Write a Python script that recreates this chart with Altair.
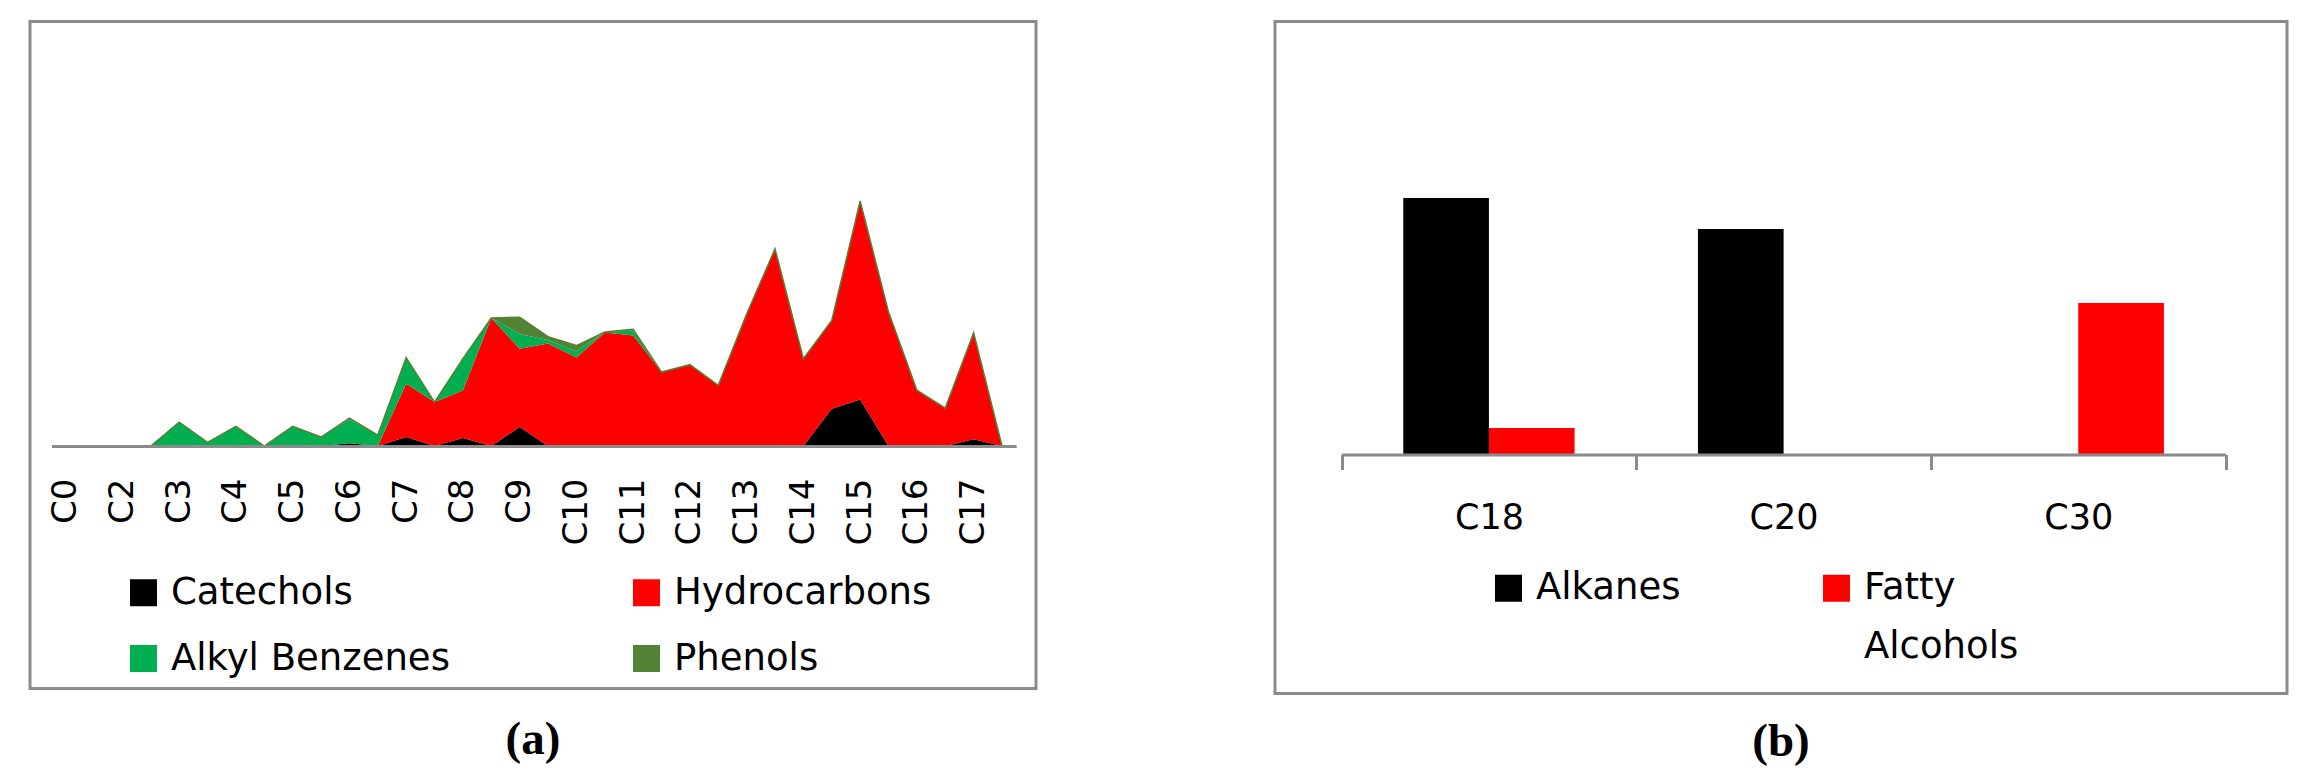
import json
import altair as alt
import pandas as pd

# ---------------- Panel (a): stacked area by carbon number ----------------
# 34 category slots along the axis; every second slot carries a tick label
tick_labels_a = ["C0", "C2", "C3", "C4", "C5", "C6", "C7", "C8", "C9",
                 "C10", "C11", "C12", "C13", "C14", "C15", "C16", "C17"]
n_slots = 34
series_a = ["Catechols", "Hydrocarbons", "Alkyl Benzenes", "Phenols"]
colors_a = ["#000000", "#FF0000", "#00B050", "#548235"]

catechols = [0, 0, 0, 0, 0, 0, 0, 0, 0, 0,
             1.1, 0, 3.6, 0, 3.2, 0, 7.7, 0, 0, 0,
             0, 0, 0, 0, 0, 0, 0, 15.0, 18.8, 0,
             0, 0, 2.7, 0]
hydrocarbons = [0, 0, 0, 0, 0, 0, 0, 0, 0, 0,
                0, 0, 21.5, 17.7, 19.2, 51.6, 31.5, 41.3, 35.7, 45.8,
                44.6, 29.8, 32.8, 24.5, 53.2, 79.5, 35.2, 35.6, 80.0, 54.0,
                22.5, 15.3, 43.0, 0]
alkyl_benzenes = [0, 0, 0, 0, 9.6, 1.5, 7.9, 0, 7.9, 3.6,
                  9.5, 4.4, 10.5, 0, 12.8, 0, 6.0, 1.4, 2.5, 0.2,
                  2.0, 0, 0, 0, 0, 0, 0, 0, 0, 0,
                  0, 0, 0, 0]
phenols = [0, 0, 0, 0, 0, 0, 0, 0, 0, 0,
           0.6, 0, 0, 0, 0, 0, 6.7, 1.4, 2.3, 0,
           0.5, 0, 0, 0, 0, 0, 0, 0, 0, 0,
           0, 0, 0, 0]

# ---------------- Panel (b): grouped bars ----------------
categories_b = ["C18", "C20", "C30"]
series_b = ["Alkanes", "Fatty Alcohols"]
colors_b = ["#000000", "#FF0000"]
alkanes = [100.0, 87.9, 0]
fatty_alcohols = [10.3, 0, 59.1]

# ---------------- build tables ----------------
rows_a = []
for k, (name, vals) in enumerate(zip(series_a, [catechols, hydrocarbons, alkyl_benzenes, phenols])):
    for i, v in enumerate(vals):
        rows_a.append({"slot": i, "compound": name, "value": v, "stack_order": k})
df_a = pd.DataFrame(rows_a)

rows_b = []
for name, vals in zip(series_b, [alkanes, fatty_alcohols]):
    for c, v in zip(categories_b, vals):
        rows_b.append({"carbon": c, "type": name, "value": v})
df_b = pd.DataFrame(rows_b)

GRAY = "#8B8B8B"
FONT = "DejaVu Sans"

# plot-area geometry (pixels) of the two framed panels
H_A, H_B = 667, 672
BELOW_ZERO_A, BELOW_ZERO_B = 242.5, 239.0
PX_PER_UNIT_A, PX_PER_UNIT_B = 2.48, 2.565

label_expr = "%s[round(datum.value / 2)]" % json.dumps(tick_labels_a)
x_scale_a = alt.Scale(domain=[-0.5, n_slots - 0.5], range=[21.5, 986.2], nice=False, zero=False)

x_a = alt.X(
    "slot:Q",
    scale=x_scale_a,
    axis=alt.Axis(
        values=list(range(0, n_slots, 2)), labelExpr=label_expr, labelAngle=-90,
        labelFont=FONT, labelFontSize=34, labelColor="#000000", labelPadding=32,
        ticks=False, tickSize=0, grid=False, domainColor=GRAY, domainWidth=3,
        title=None, labelOverlap=False, labelFlush=False, zindex=1,
        offset=-BELOW_ZERO_A,
    ),
)
y_scale_a = alt.Scale(domain=[-BELOW_ZERO_A / PX_PER_UNIT_A, (H_A - BELOW_ZERO_A) / PX_PER_UNIT_A],
                      nice=False, zero=False)

area = alt.Chart(df_a).mark_area(opacity=1, interpolate="linear").encode(
    x=x_a,
    y=alt.Y("value:Q", stack="zero", scale=y_scale_a, axis=None),
    color=alt.Color(
        "compound:N",
        scale=alt.Scale(domain=series_a, range=colors_a),
        legend=alt.Legend(
            orient="none", legendX=95, legendY=552.5, columns=2, direction="horizontal",
            columnPadding=178, rowPadding=28, title=None, padding=0,
            symbolType="square", symbolSize=729, symbolStrokeWidth=0, symbolOpacity=1,
            labelFont=FONT, labelFontSize=37, labelColor="#000000", labelOffset=9,
            labelLimit=0,
        ),
    ),
    order=alt.Order("stack_order:Q"),
)

top_line = alt.Chart(df_a).transform_aggregate(
    total="sum(value)", groupby=["slot"]
).mark_line(color="#548235", strokeWidth=1.5).encode(
    x=alt.X("slot:Q", scale=x_scale_a),
    y=alt.Y("total:Q", scale=y_scale_a),
)

chart_a = alt.layer(area, top_line).properties(
    width=1006, height=H_A,
    title=alt.TitleParams("(a)", orient="bottom", anchor="middle", font="Liberation Serif",
                          fontSize=47, fontWeight="bold", color="#000000", offset=28),
)

bars = alt.Chart(df_b).mark_bar(opacity=1).encode(
    x=alt.X(
        "carbon:N", sort=categories_b,
        scale=alt.Scale(range=[66.6, 950.6], paddingInner=0, paddingOuter=0),
        axis=alt.Axis(
            labelAngle=0, labelFont=FONT, labelFontSize=35, labelColor="#000000",
            labelPadding=31, ticks=True, tickBand="extent", tickSize=15, tickWidth=3,
            tickColor=GRAY, domainColor=GRAY, domainWidth=3, grid=False, title=None,
            zindex=1, offset=-BELOW_ZERO_B,
        ),
    ),
    xOffset=alt.XOffset("type:N", sort=series_b,
                        scale=alt.Scale(domain=series_b, paddingInner=0, paddingOuter=0.72)),
    y=alt.Y("value:Q",
            scale=alt.Scale(domain=[-BELOW_ZERO_B / PX_PER_UNIT_B, (H_B - BELOW_ZERO_B) / PX_PER_UNIT_B],
                            nice=False, zero=False),
            axis=None),
    color=alt.Color(
        "type:N",
        scale=alt.Scale(domain=series_b, range=colors_b),
        legend=alt.Legend(
            orient="none", legendX=215, legendY=548, columns=2, direction="horizontal",
            columnPadding=137, title=None, padding=0,
            symbolType="square", symbolSize=729, symbolStrokeWidth=0, symbolOpacity=1,
            labelFont=FONT, labelFontSize=37, labelColor="#000000", labelOffset=9,
            labelLimit=0,
            labelExpr="datum.label == 'Fatty Alcohols' ? ['Fatty', 'Alcohols'] : [datum.label, ' ']",
        ),
    ),
)

chart_b = bars.properties(
    width=1012, height=H_B,
    title=alt.TitleParams("(b)", orient="bottom", anchor="middle", font="Liberation Serif",
                          fontSize=47, fontWeight="bold", color="#000000", offset=25),
)

chart = alt.hconcat(chart_a, chart_b, spacing=235).resolve_scale(
    color="independent"
).resolve_legend(color="independent").properties(
    padding={"left": 20, "top": 11.5, "right": 0, "bottom": 0},
    background="#FFFFFF",
).configure(
    style={"guide-label": {"lineHeight": 59}},
    view=alt.ViewConfig(stroke=GRAY, strokeWidth=3),
)

chart.save("out.html", embed_options={"renderer": "svg", "actions": False})
